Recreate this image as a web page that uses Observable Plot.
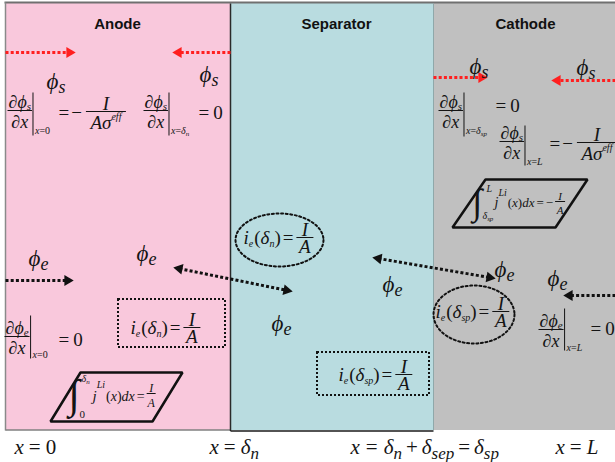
<!DOCTYPE html>
<html><head><meta charset="utf-8">
<script src="https://cdn.jsdelivr.net/npm/d3@7"></script>
<script src="https://cdn.jsdelivr.net/npm/@observablehq/plot@0.6"></script>
<style>body{margin:0;background:#fff;overflow:hidden}</style>
</head><body><div id="chart"></div>
<script>
// ---- diagram data ----
const regions = ["Anode", "Separator", "Cathode"];
const regionX1 = [5, 230, 433];
const regionX2 = [230, 433, 615];
const regionFill = ["#f9c8dc", "#b9dce0", "#c0c0c0"];
const regionTitleX = [117, 336, 525];
const panelTop = 3, panelBottom = 430;

// potential labels: [x, baseline, subscript]
const phiLabels = [
  [46, 88, "s"], [199, 81, "s"], [469, 73, "s"], [576, 74, "s"],
  [28, 265, "e"], [136, 260, "e"], [271, 330, "e"], [382, 291, "e"], [494, 276, "e"], [547, 285, "e"]
];
// current arrows: x1, y1, x2(tip), y2(tip), colour, double-headed
const arrows = [
  [5, 52, 75, 52, "red", false],
  [230, 52, 172, 52, "red", false],
  [433, 77, 487, 77, "red", false],
  [615, 80, 551, 80, "red", false],
  [5, 280, 73, 280, "black", false],
  [173, 267, 292, 291, "black", true],
  [372, 257, 495, 278, "black", true],
  [615, 295, 563, 295, "black", false]
];
const dottedBoxes = [[118, 225, 299, 347], [317, 429, 352, 395]];
const dottedEllipses = [[279, 239.5, 44, 26.5], [473.5, 314, 40.5, 29]];
const parallelograms = [
  [[80, 372], [182, 372], [152, 421], [50, 421]],
  [[485, 179], [587, 179], [555, 227], [452, 227]]
];

// ---- text layout helpers ----
const SERIF = "Liberation Serif";
const ctx = document.createElement("canvas").getContext("2d");
function tw(t, f, s) { ctx.font = (f === "i" ? "italic " : "") + s + "px 'Liberation Serif'"; return ctx.measureText(t).width; }
const frags = [], segs = [];
function seq(x, y, parts) {
  for (const [t, f, s, dy = 0, gap = 0] of parts) { x += gap; frags.push({x, y: y + dy, t, s, f}); x += tw(t, f, s); }
  return x;
}
function wid(parts) { return parts.reduce((a, [t, f, s, dy, gap = 0]) => a + gap + tw(t, f, s), 0); }
function seg(x1, y1, x2, y2, w = 1) { segs.push({x1, y1, x2, y2, w}); }
function frac(x, yl, num, den, lw, numDy, denDy) {
  const w = lw ?? Math.max(wid(num), wid(den)) + 2;
  seq(x + (w - wid(num)) / 2, yl + numDy, num);
  seq(x + (w - wid(den)) / 2, yl + denDy, den);
  seg(x, yl, x + w, yl, 1);
  return x + w;
}
function deriv(x0, yl, sub, ev, bt, bb, evDy) {
  const num = [["∂", "n", 18], ["ϕ", "i", 18], [sub, "i", 11, 2]];
  const den = [["∂", "n", 18], ["x", "i", 18]];
  const xe = frac(x0, yl, num, den, undefined, -3, 17);
  seg(xe + 1, yl - bt, xe + 1, yl + bb, 1);
  return seq(xe + 3, yl + evDy, ev);
}
const ev0 = [["x", "i", 10], ["=0", "n", 10]];
const evDn = [["x", "i", 10], ["=", "n", 10], ["δ", "i", 10], ["n", "i", 7, 2]];
const evDsp = [["x", "i", 10], ["=", "n", 10], ["δ", "i", 10], ["sp", "i", 7, 2]];
const evL = [["x", "i", 10], ["=", "n", 10], ["L", "i", 10]];
function eqZero(x, yb) { seq(x, yb, [["=", "n", 19], ["0", "n", 19, 0, 4]]); }
function eqMinusFrac(x, yl) {
  const xe = seq(x, yl + 7, [["=", "n", 19], ["−", "n", 19, 0, 2]]);
  frac(xe + 4, yl, [["I", "i", 19]], [["A", "i", 19], ["σ", "i", 19], ["eff", "i", 10, -9]], 40, -2, 17);
}
function ie(x0, yb, sub) {
  const xe = seq(x0, yb, [["i", "i", 19], ["e", "i", 10, 3], ["(", "n", 19, 0, 1], ["δ", "i", 19], [sub, "i", 10, 3], [")", "n", 19], ["=", "n", 19, 0, 2]]);
  frac(xe + 3, yb - 6, [["I", "i", 19]], [["A", "i", 19]], 17, -2, 15);
}

// phi labels
for (const [x, y, s] of phiLabels) seq(x, y, [["ϕ", "i", 23], [s, "i", 18, 4]]);
// boundary conditions
deriv(7, 110, "s", ev0, 18, 25, 23); eqMinusFrac(58, 111);
deriv(143, 110, "s", evDn, 18, 25, 23); eqZero(198, 118);
deriv(438, 110, "s", evDsp, 18, 26, 23); eqZero(495, 111);
deriv(499, 141, "s", evL, 16, 24, 23); eqMinusFrac(549, 142);
deriv(4, 336, "e", ev0, 21, 22, 21); eqZero(58, 345);
deriv(538, 329, "e", evL, 21, 21, 21); eqZero(590, 334);
// current conditions
ie(130, 333, "n"); ie(243, 243, "n"); ie(338, 380, "sp"); ie(435, 317, "sp");
// integrals
seq(68, 407, [["∫", "n", 41]]);
seq(79, 417, [["0", "n", 11]]);
seq(81, 381, [["δ", "i", 10], ["n", "i", 7, 2]]);
let xi = seq(92, 400, [["j", "i", 15], ["Li", "i", 10, -13]]);
xi = seq(xi + 1, 400, [["(", "n", 14], ["x", "i", 14], [")", "n", 14], ["dx", "i", 14], ["=", "n", 14, 0, 2]]);
frac(xi + 2, 393, [["I", "i", 12]], [["A", "i", 12]], 9, -2, 13);
seq(472, 213, [["∫", "n", 36]]);
seq(486, 191, [["L", "i", 10]]);
seq(482, 218, [["δ", "i", 10], ["sp", "i", 7, 2]]);
xi = seq(494, 206, [["j", "i", 14], ["Li", "i", 10, -11]]);
xi = seq(xi + 1, 206, [["(", "n", 13], ["x", "i", 13], [")", "n", 13], ["dx", "i", 13], ["=", "n", 13, 0, 2], ["−", "n", 13, 0, 2]]);
frac(xi + 2, 201, [["I", "i", 11]], [["A", "i", 11]], 10, -2, 12);
// bottom position labels
seq(14, 453, [["x", "i", 21], ["=", "n", 21, 0, 5], ["0", "n", 21, 0, 5]]);
seq(209, 453, [["x", "i", 21], ["=", "n", 21, 0, 5], ["δ", "i", 21, 0, 5], ["n", "i", 17, 5]]);
seq(350, 453, [["x", "i", 21], ["=", "n", 21, 0, 6], ["δ", "i", 21, 0, 6], ["n", "i", 17, 5], ["+", "n", 21, 0, 4], ["δ", "i", 21, 0, 4], ["sep", "i", 17, 5], ["=", "n", 21, 0, 4], ["δ", "i", 21, 0, 4], ["sp", "i", 17, 5]]);
seq(555, 453, [["x", "i", 21], ["=", "n", 21, 0, 5], ["L", "i", 21, 0, 5]]);

// arrows
const arrowLines = [], arrowHeads = [];
for (const [x1, y1, x2, y2, color, both] of arrows) {
  const L = Math.hypot(x2 - x1, y2 - y1), ux = (x2 - x1) / L, uy = (y2 - y1) / L;
  const ang = Math.atan2(uy, ux) * 180 / Math.PI, back = 6;
  arrowLines.push({x1: both ? x1 + ux * back : x1, y1: both ? y1 + uy * back : y1, x2: x2 - ux * back, y2: y2 - uy * back, color});
  arrowHeads.push({x: x2 - ux * back, y: y2 - uy * back, rot: ang + 90, color});
  if (both) arrowHeads.push({x: x1 + ux * back, y: y1 + uy * back, rot: ang - 90, color});
}
const ellipsePts = [];
dottedEllipses.forEach(([cx, cy, rx, ry], k) => {
  for (let i = 0; i < 72; i++) { const a = i / 72 * 2 * Math.PI; ellipsePts.push({k, x: cx + rx * Math.cos(a), y: cy + ry * Math.sin(a)}); }
});
const paraPts = parallelograms.flatMap((p, k) => p.map(([x, y]) => ({k, x, y})));

const panels = regions.map((name, i) => ({name, x1: regionX1[i], x2: regionX2[i], tx: regionTitleX[i]}));
const borders = [
  {x1: 4, y1: 2, x2: 615, y2: 2, c: "#707070", w: 2},
  {x1: 5, y1: 2, x2: 5, y2: panelBottom, c: "#8a8a8a", w: 1.5},
  {x1: 5, y1: panelBottom - 0.5, x2: 230, y2: panelBottom - 0.5, c: "#808080", w: 1.5},
  {x1: 230, y1: 3, x2: 230, y2: panelBottom + 0.5, c: "#2a2a2a", w: 1.5},
  {x1: 230, y1: panelBottom + 0.5, x2: 433, y2: panelBottom + 0.5, c: "#1a1a1a", w: 1.5},
  {x1: 433, y1: 3, x2: 433, y2: panelBottom, c: "#8fa8aa", w: 1}
];
const dash = "3 2.2";
const txt = (f, extra) => Plot.text(frags.filter(d => d.f === f), {x: "x", y: "y", text: "t", fontSize: d => d.s, fontFamily: SERIF, textAnchor: "start", lineAnchor: "bottom", fill: "#141414", ...extra});

const chart = Plot.plot({
  width: 615, height: 462, margin: 0,
  x: {domain: [0, 615], range: [0, 615], axis: null},
  y: {domain: [0, 462], range: [0, 462], axis: null},
  color: {domain: regions, range: regionFill},
  style: {background: "#fff", overflow: "hidden"},
  marks: [
    Plot.rect(panels, {x1: "x1", x2: "x2", y1: () => panelTop, y2: () => panelBottom, fill: "name"}),
    Plot.link(borders, {x1: "x1", y1: "y1", x2: "x2", y2: "y2", stroke: "c", strokeWidth: "w"}),
    Plot.text(panels, {x: "tx", y: () => 28, text: "name", fontFamily: "Liberation Sans", fontWeight: "bold", fontSize: 15, lineAnchor: "bottom", fill: "#111"}),
    Plot.line(paraPts, {x: "x", y: "y", z: "k", curve: "linear-closed", stroke: "#111", strokeWidth: 2.5, strokeLinejoin: "miter"}),
    Plot.rect(dottedBoxes, {x1: d => d[0], x2: d => d[1], y1: d => d[2], y2: d => d[3], fill: "none", stroke: "#111", strokeWidth: 2, strokeDasharray: "2 2"}),
    Plot.line(ellipsePts, {x: "x", y: "y", z: "k", curve: "linear-closed", stroke: "#111", strokeWidth: 2, strokeDasharray: "2 2.6"}),
    Plot.link(arrowLines.filter(d => d.color === "red"), {x1: "x1", y1: "y1", x2: "x2", y2: "y2", stroke: "#ff1f1f", strokeWidth: 3, strokeDasharray: dash}),
    Plot.link(arrowLines.filter(d => d.color === "black"), {x1: "x1", y1: "y1", x2: "x2", y2: "y2", stroke: "#111", strokeWidth: 3, strokeDasharray: dash}),
    Plot.dot(arrowHeads.filter(d => d.color === "red"), {x: "x", y: "y", rotate: "rot", symbol: "triangle", r: 4, fill: "#ff1f1f"}),
    Plot.dot(arrowHeads.filter(d => d.color === "black"), {x: "x", y: "y", rotate: "rot", symbol: "triangle", r: 4, fill: "#111"}),
    Plot.link(segs, {x1: "x1", y1: "y1", x2: "x2", y2: "y2", stroke: "#141414", strokeWidth: "w"}),
    txt("n", {}),
    txt("i", {fontStyle: "italic"})
  ]
});
document.getElementById("chart").append(chart);
</script></body></html>
